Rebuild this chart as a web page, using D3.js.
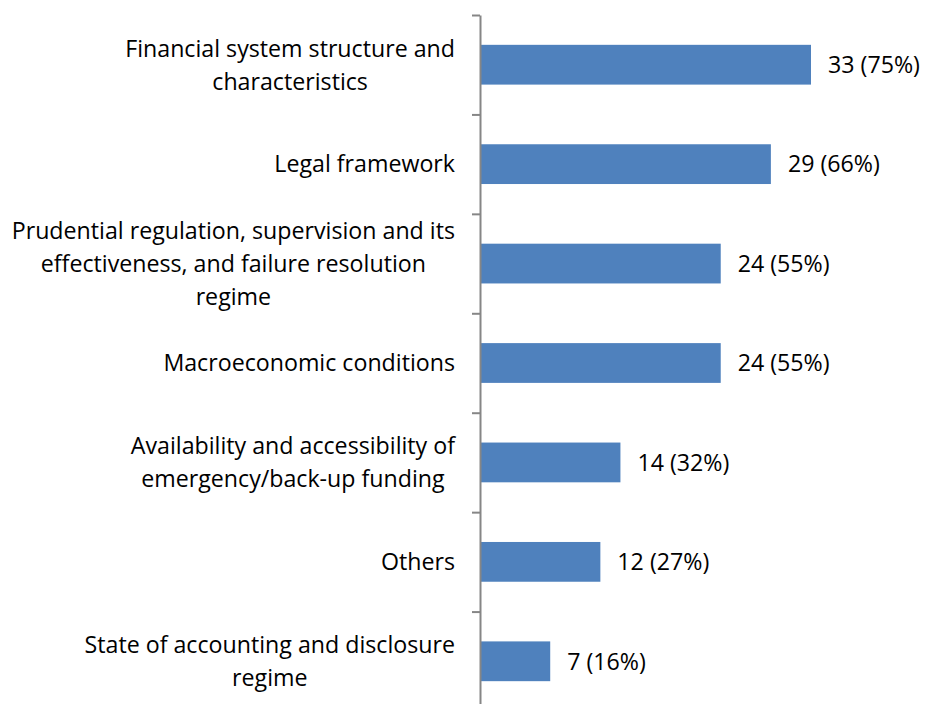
<!DOCTYPE html>
<html><head><meta charset="utf-8">
<script src="https://d3js.org/d3.v7.min.js"></script>
<style>body{margin:0;background:#fff}</style>
</head><body>
<svg id="c" width="925" height="704"></svg>
<script>
const categories = [
  ["Financial system structure and", "characteristics"],
  ["Legal framework"],
  ["Prudential regulation, supervision and its", "effectiveness, and failure resolution", "regime"],
  ["Macroeconomic conditions"],
  ["Availability and accessibility of", "emergency/back-up funding"],
  ["Others"],
  ["State of accounting and disclosure", "regime"]
];
const counts = [33, 29, 24, 24, 14, 12, 7];
const percents = [75, 66, 55, 55, 32, 27, 16];

const svg = d3.select("#c");
const font = "'Open Sans', sans-serif";
const fs = 23.2;
const x0 = 480;
const x = d3.scaleLinear().domain([0, 33]).range([x0, 811]);
const y = d3.scaleBand().domain(d3.range(categories.length)).range([15, 711]).paddingInner(0.6).paddingOuter(0.3);
const yb = d3.scaleBand().domain(d3.range(categories.length)).range([15, 711]);

// bars
svg.selectAll("rect.bar").data(counts).join("rect")
  .attr("x", x0).attr("y", (d,i)=>y(i))
  .attr("width", d=>x(d)-x0).attr("height", y.bandwidth())
  .attr("fill", "#4F81BD");

// axis
const g = svg.append("g");
g.attr("transform", `translate(${x0},0)`);
g.call(d3.axisLeft(d3.scaleLinear().domain([0,7]).range([15,711])).ticks(7).tickSize(8).tickFormat("").tickSizeOuter(0));
g.select(".domain").attr("stroke", "#868686").attr("stroke-width", 2);
g.selectAll(".tick line").attr("stroke", "#868686").attr("stroke-width", 2);

// value labels
svg.selectAll("text.val").data(counts).join("text")
  .attr("x", d=>x(d)+17).attr("y", (d,i)=>y(i)+y.bandwidth()/2)
  .attr("dy", "0.36em")
  .attr("font-family", font).attr("font-size", fs).attr("fill", "#000")
  .text((d,i)=>`${d} (${percents[i]}%)`);

// category labels
const lh = 33;
categories.forEach((lines, i) => {
  const cy = yb(i) + yb.bandwidth()/2;
  const grp = svg.append("g");
  const ts = lines.map((l, k) => grp.append("text")
    .attr("font-family", font).attr("font-size", fs).attr("fill", "#000")
    .attr("text-anchor", "middle")
    .attr("y", cy + (k - (lines.length-1)/2)*lh).attr("dy", "0.36em")
    .text(l));
  const maxW = d3.max(ts, t => t.node().getComputedTextLength());
  ts.forEach(t => t.attr("x", 455 - maxW/2));
});
</script>
</body></html>
